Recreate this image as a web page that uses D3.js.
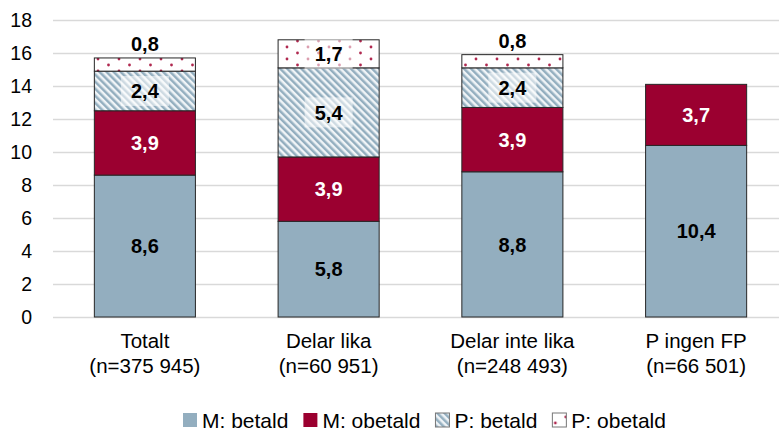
<!DOCTYPE html>
<html>
<head>
<meta charset="utf-8">
<script src="https://cdn.jsdelivr.net/npm/d3@7"></script>
<style>
  body { margin: 0; background: #fff; }
  svg { font-family: "Liberation Sans", Arial, sans-serif; }
  .grid line { stroke: #d9d9d9; stroke-width: 1.3; }
  .grid .domain { display: none; }
</style>
</head>
<body>
<svg id="chart" width="779" height="436"></svg>
<script>
// ------------------------------------------
//  Data
// ------------------------------------------
const categories = ["Totalt", "Delar lika", "Delar inte lika", "P ingen FP"]
const subLabels = ["(n=375 945)", "(n=60 951)", "(n=248 493)", "(n=66 501)"]
const seriesNames = ["M: betald", "M: obetald", "P: betald", "P: obetald"]
const mBetald = [8.6, 5.8, 8.8, 10.4]
const mObetald = [3.9, 3.9, 3.9, 3.7]
const pBetald = [2.4, 5.4, 2.4, 0]
const pObetald = [0.8, 1.7, 0.8, 0]
const yTicks = [0, 2, 4, 6, 8, 10, 12, 14, 16, 18]

// ------------------------------------------
//  Setup
// ------------------------------------------
const svg = d3.select("#chart")
const margin = { top: 20, right: -9, bottom: 119, left: 53 }
const width = 779 - margin.left - margin.right
const height = 436 - margin.top - margin.bottom
const g = svg.append("g").attr("transform", `translate(${margin.left},${margin.top})`)

const defs = svg.append("defs")
const stripes = defs.append("pattern")
    .attr("id", "stripes").attr("patternUnits", "userSpaceOnUse")
    .attr("width", 5).attr("height", 5)
    .attr("patternTransform", "rotate(-45)")
stripes.append("rect").attr("width", 5).attr("height", 5).attr("fill", "#f0f4f7")
stripes.append("rect").attr("width", 2.5).attr("height", 5).attr("fill", "#93aebf")

const dots = defs.append("pattern")
    .attr("id", "dots").attr("patternUnits", "userSpaceOnUse")
    .attr("width", 21).attr("height", 12)
dots.append("rect").attr("width", 21).attr("height", 12).attr("fill", "#fff")
dots.append("circle").attr("cx", 3).attr("cy", 3).attr("r", 1.4).attr("fill", "#b0284f")
dots.append("circle").attr("cx", 13.5).attr("cy", 9).attr("r", 1.4).attr("fill", "#b0284f")

const fills = ["#93aebf", "#9b0030", "url(#stripes)", "url(#dots)"]
const labelColors = ["#000", "#fff", "#000", "#000"]

const rows = categories.map((c, i) => ({
    cat: c, sub: subLabels[i],
    s0: mBetald[i], s1: mObetald[i], s2: pBetald[i], s3: pObetald[i]
}))
const stack = d3.stack().keys(["s0", "s1", "s2", "s3"])(rows)

const x = d3.scaleBand().domain(categories).range([0, width]).paddingInner(0.45).paddingOuter(0.225)
const y = d3.scaleLinear().domain([0, 18]).range([height, 0])

// ------------------------------------------
//  Grid + axes
// ------------------------------------------
g.append("g").attr("class", "grid")
    .call(d3.axisLeft(y).tickValues(yTicks).tickSize(-width).tickFormat(""))

g.append("g").selectAll("text").data(yTicks).enter().append("text")
    .attr("x", -21).attr("y", d => y(d)).attr("dy", "0.36em")
    .attr("text-anchor", "end").attr("font-size", 19.5).attr("fill", "#000")
    .text(d => d)

const catG = g.append("g").selectAll("g").data(rows).enter().append("g")
    .attr("transform", d => `translate(${x(d.cat) + x.bandwidth() / 2},${height})`)
catG.append("text").attr("y", 31).attr("text-anchor", "middle")
    .attr("font-size", 20.5).text(d => d.cat)
catG.append("text").attr("y", 56).attr("text-anchor", "middle")
    .attr("font-size", 20.5).text(d => d.sub)

// ------------------------------------------
//  Bars
// ------------------------------------------
stack.forEach((layer, li) => {
    const lg = g.append("g")
    const segs = layer.filter(d => d[1] - d[0] > 0)
    lg.selectAll("rect").data(segs).enter().append("rect")
        .attr("x", d => x(d.data.cat))
        .attr("width", x.bandwidth())
        .attr("y", d => y(d[1]))
        .attr("height", d => y(d[0]) - y(d[1]))
        .attr("fill", fills[li])
        .attr("stroke", "#262626").attr("stroke-width", 1)
})

// ------------------------------------------
//  Labels
// ------------------------------------------
const fmt = v => String(v).replace(".", ",")
stack.forEach((layer, li) => {
    const segs = layer.filter(d => d[1] - d[0] > 0)
    segs.forEach(d => {
        const v = d[1] - d[0]
        const cx = x(d.data.cat) + x.bandwidth() / 2
        const segH = y(d[0]) - y(d[1])
        const above = segH < 20
        const cy = above ? y(d[1]) - 14 : (y(d[0]) + y(d[1])) / 2
        if (li >= 2 && !above) {
            g.append("rect").attr("x", cx - 24).attr("y", cy - 15)
                .attr("width", 48).attr("height", 30)
                .attr("fill", "#fff").attr("opacity", 0.55)
        }
        g.append("text").attr("x", cx).attr("y", cy).attr("dy", "0.36em")
            .attr("text-anchor", "middle").attr("font-size", 20).attr("font-weight", "bold")
            .attr("fill", labelColors[li])
            .text(fmt(Math.round(v * 10) / 10))
    })
})

// ------------------------------------------
//  Legend
// ------------------------------------------
const legend = svg.append("g").attr("transform", "translate(183,420)")
let lx = 0
seriesNames.forEach((name, i) => {
    const item = legend.append("g").attr("transform", `translate(${lx},0)`)
    item.append("rect").attr("x", 0).attr("y", -7).attr("width", 14).attr("height", 14)
        .attr("fill", fills[i]).attr("stroke", i >= 2 ? "#777" : "none")
    const t = item.append("text").attr("x", 19).attr("y", 0).attr("dy", "0.36em")
        .attr("font-size", 21).text(name)
    lx += 19 + t.node().getComputedTextLength() + 15
})
</script>
</body>
</html>
